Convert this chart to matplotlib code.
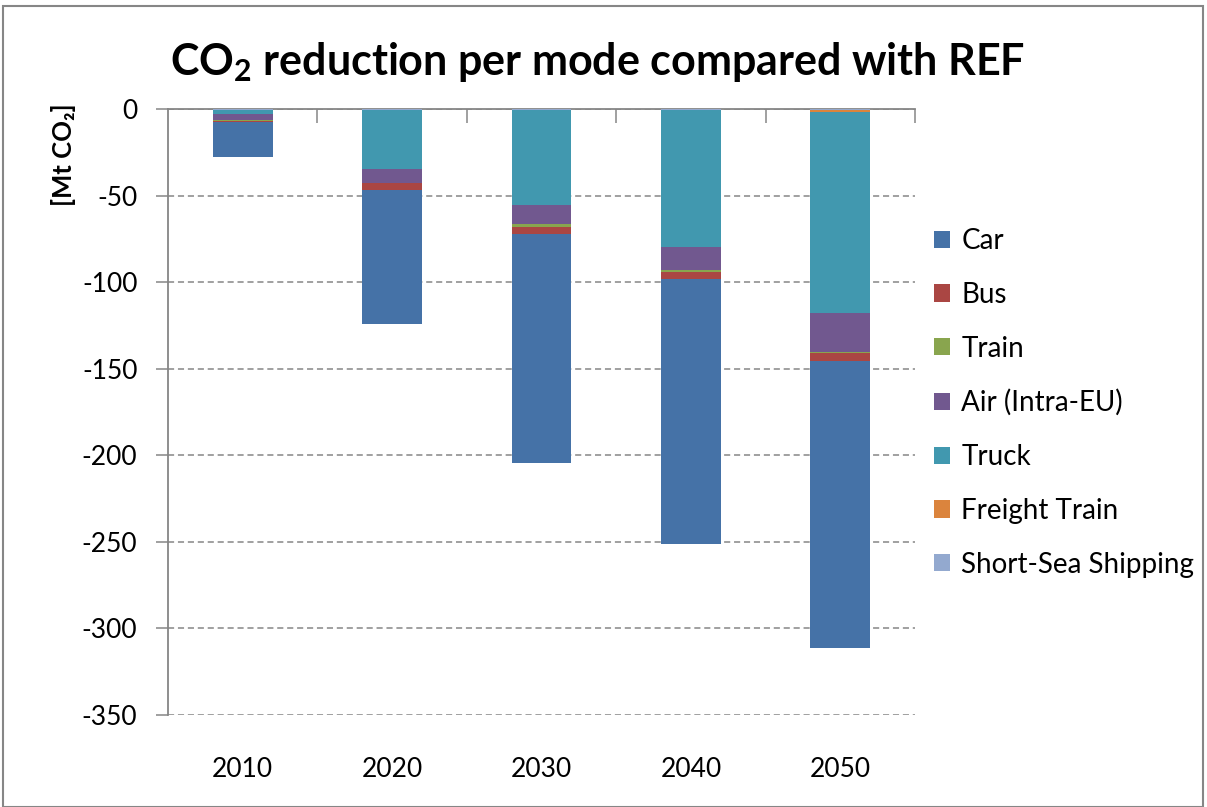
"""
CO2 reduction per transport mode compared with the REF scenario.
Stacked negative bars, Excel-style look.
"""

import matplotlib.pyplot as plt
import numpy as np
from matplotlib.patches import Rectangle

plt.rcParams["font.family"] = ["Lato", "DejaVu Sans"]
plt.rcParams["axes.unicode_minus"] = False
plt.rcParams["mathtext.fontset"] = "custom"
plt.rcParams["mathtext.rm"] = "Lato"
plt.rcParams["mathtext.bf"] = "Lato:bold"

years = ["2010", "2020", "2030", "2040", "2050"]

# values in Mt CO2 (negative = reduction vs REF)
car = [-20.6, -77.4, -131.9, -153.0, -165.4]
bus = [-0.3, -3.5, -4.4, -4.2, -4.8]
train = [-0.8, -0.2, -1.6, -1.2, -0.3]
air = [-3.4, -8.2, -10.9, -13.5, -22.6]
truck = [-2.0, -34.0, -54.7, -78.9, -116.2]
freight_train = [-0.3, -0.3, -0.5, -0.3, -1.5]
short_sea = [-0.5, -0.3, -0.3, -0.3, -0.3]

series = [
    ("Car", car, "#4572A7"),
    ("Bus", bus, "#AA4643"),
    ("Train", train, "#89A54E"),
    ("Air (Intra-EU)", air, "#71588F"),
    ("Truck", truck, "#4198AF"),
    ("Freight Train", freight_train, "#DB843D"),
    ("Short-Sea Shipping", short_sea, "#93A9CF"),
]

fig = plt.figure(figsize=(12.07, 8.07), dpi=100)
ax = fig.add_axes([168 / 1207, 1 - 715 / 807, (915 - 168) / 1207, (715 - 109) / 807])

x = np.arange(len(years))
bottom = np.zeros(len(years))
handles = {}
# stacked from zero downwards: last legend entry is nearest to the axis
for name, vals, color in reversed(series):
    vals = np.array(vals)
    bars = ax.bar(x, vals, bottom=bottom, width=0.4, color=color, linewidth=0, zorder=3)
    handles[name] = bars
    bottom += vals

grey = "#868686"
ax.set_xlim(-0.5, len(years) - 0.5)
ax.set_ylim(-350, 0)
ax.set_yticks(np.arange(-350, 1, 50))
ax.yaxis.grid(True, linestyle=(0, (4, 2.5)), color=grey, linewidth=1.1, zorder=0)
ax.tick_params(axis="y", direction="out", length=9, width=1.1, color=grey,
               labelsize=19, pad=13)

ax.set_xticks(x)
ax.set_xticklabels(years)
ax.tick_params(axis="x", length=0, labelsize=19, pad=30)

for side in ["right", "bottom"]:
    ax.spines[side].set_visible(False)
for side in ["left", "top"]:
    ax.spines[side].set_color(grey)
    ax.spines[side].set_linewidth(1.3)

# category axis sits at zero, with boundary ticks pointing down
top = ax.secondary_xaxis("top")
top.set_xticks(np.arange(len(years)) + 0.5)
top.tick_params(axis="x", direction="in", length=10, width=1.1, color=grey, labeltop=False)
top.spines["top"].set_visible(False)

fig.text(0.495, 1 - 62 / 807, r"CO$_\mathbf{2}$ reduction per mode compared with REF",
         ha="center", va="center", fontsize=31, fontweight="bold")
fig.text(64 / 1207, 1 - 155 / 807, "[Mt CO\u2082]", rotation=90,
         ha="center", va="center", fontsize=18.5, fontweight="bold")

names = [s[0] for s in series]
fig.legend([handles[n] for n in names], names, loc="upper left",
           bbox_to_anchor=(934 / 1207, 1 - 228 / 807), frameon=False,
           fontsize=20, handlelength=0.58, handleheight=0.58, handletextpad=0.4,
           labelspacing=1.0, borderpad=0, borderaxespad=0)

# outer chart border
fig.patches.append(Rectangle((3 / 1207, 0), 1 - 7 / 1207, 1 - 6 / 807,
                             transform=fig.transFigure, fill=False,
                             edgecolor=grey, linewidth=1.5))

plt.savefig("out.png", dpi=100)
plt.close()
